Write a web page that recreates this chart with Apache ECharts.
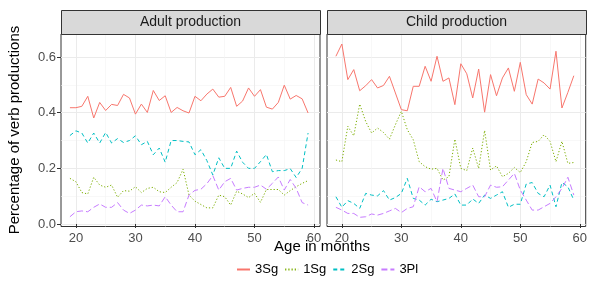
<!DOCTYPE html>
<html>
<head>
<meta charset="utf-8">
<script src="https://cdn.jsdelivr.net/npm/echarts@6/dist/echarts.min.js"></script>
<style>
  html, body { margin: 0; padding: 0; background: #fff; }
  #chart { width: 590px; height: 292px; }
</style>
</head>
<body>
<div id="chart"></div>
<script>
// age in months (one point per month)
const months = [19, 20, 21, 22, 23, 24, 25, 26, 27, 28, 29, 30, 31, 32, 33, 34, 35, 36, 37, 38, 39,
  40, 41, 42, 43, 44, 45, 46, 47, 48, 49, 50, 51, 52, 53, 54, 55, 56, 57, 58, 59];

const adult3Sg = [0.418, 0.418, 0.423, 0.459, 0.381, 0.437, 0.408, 0.43, 0.426, 0.466, 0.453, 0.395, 0.431, 0.401, 0.48, 0.444, 0.461, 0.401, 0.419, 0.407, 0.399,
  0.459, 0.443, 0.467, 0.485, 0.456, 0.459, 0.491, 0.423, 0.442, 0.489, 0.459, 0.483, 0.42, 0.413, 0.437, 0.499, 0.449, 0.462, 0.45, 0.399];
const adult1Sg = [0.164, 0.152, 0.113, 0.108, 0.168, 0.14, 0.132, 0.14, 0.096, 0.12, 0.118, 0.134, 0.113, 0.128, 0.132, 0.116, 0.113, 0.132, 0.149, 0.197, 0.104,
  0.082, 0.07, 0.058, 0.058, 0.104, 0.098, 0.068, 0.118, 0.108, 0.095, 0.11, 0.078, 0.124, 0.124, 0.124, 0.104, 0.12, 0.134, 0.146, 0.156];
const adult2Sg = [0.318, 0.335, 0.327, 0.291, 0.327, 0.291, 0.329, 0.291, 0.307, 0.293, 0.3, 0.317, 0.285, 0.297, 0.249, 0.273, 0.222, 0.3, 0.3, 0.297, 0.295,
  0.249, 0.267, 0.228, 0.176, 0.238, 0.2, 0.2, 0.262, 0.222, 0.2, 0.2, 0.224, 0.25, 0.188, 0.192, 0.192, 0.199, 0.167, 0.2, 0.327];
const adult3Pl = [0.026, 0.044, 0.047, 0.044, 0.06, 0.072, 0.06, 0.06, 0.077, 0.05, 0.038, 0.05, 0.068, 0.065, 0.068, 0.065, 0.098, 0.068, 0.044, 0.044, 0.104,
  0.121, 0.125, 0.145, 0.174, 0.122, 0.152, 0.164, 0.122, 0.128, 0.132, 0.132, 0.14, 0.125, 0.146, 0.169, 0.122, 0.16, 0.128, 0.077, 0.068];

const child3Sg = [0.603, 0.647, 0.519, 0.555, 0.479, 0.497, 0.519, 0.489, 0.498, 0.531, 0.471, 0.411, 0.407, 0.495, 0.495, 0.567, 0.513, 0.603, 0.513, 0.525, 0.429,
  0.576, 0.54, 0.453, 0.557, 0.402, 0.537, 0.461, 0.525, 0.561, 0.477, 0.581, 0.465, 0.431, 0.521, 0.507, 0.485, 0.621, 0.417, 0.473, 0.533];
const child1Sg = [0.23, 0.224, 0.351, 0.317, 0.431, 0.369, 0.327, 0.345, 0.329, 0.305, 0.357, 0.405, 0.339, 0.303, 0.224, 0.206, 0.197, 0.2, 0.158, 0.17, 0.305,
  0.2, 0.192, 0.273, 0.2, 0.336, 0.194, 0.209, 0.17, 0.182, 0.203, 0.185, 0.224, 0.293, 0.297, 0.321, 0.297, 0.224, 0.297, 0.218, 0.221];
const child2Sg = [0.098, 0.06, 0.084, 0.074, 0.056, 0.11, 0.104, 0.101, 0.12, 0.086, 0.095, 0.11, 0.164, 0.092, 0.086, 0.068, 0.089, 0.08, 0.086, 0.092, 0.108,
  0.068, 0.068, 0.09, 0.074, 0.104, 0.092, 0.104, 0.116, 0.06, 0.071, 0.071, 0.144, 0.149, 0.11, 0.098, 0.14, 0.062, 0.149, 0.134, 0.086];
const child3Pl = [0.06, 0.05, 0.038, 0.038, 0.024, 0.026, 0.036, 0.032, 0.038, 0.047, 0.056, 0.041, 0.056, 0.062, 0.134, 0.116, 0.128, 0.08, 0.2, 0.128, 0.122,
  0.116, 0.128, 0.14, 0.098, 0.098, 0.14, 0.132, 0.134, 0.158, 0.182, 0.122, 0.086, 0.05, 0.05, 0.062, 0.074, 0.098, 0.128, 0.168, 0.104];

const xMajor = [20, 30, 40, 50, 60];
const xMinor = [25, 35, 45, 55];
const yMajor = [0, 0.2, 0.4, 0.6];
const yMinor = [0.1, 0.3, 0.5];
const panels = ['Adult production', 'Child production'];

const chart = echarts.init(document.getElementById('chart'));

const font = 'Liberation Sans, Arial, sans-serif';
const panelLeft = [61, 327];
const panelW = 259;
const panelTop = 34;
const panelH = 192.5;

const styles = {
  '3Sg': { color: '#F8766D', type: 'solid' },
  '1Sg': { color: '#7CAE00', type: [1.2, 2] },
  '2Sg': { color: '#00BFC4', type: [4, 3] },
  '3Pl': { color: '#C77CFF', type: [6, 3] }
};

function pairs(vals) {
  return months.map((m, i) => [m, vals[i]]);
}

function makeSeries(name, vals, idx) {
  return {
    name: name,
    type: 'line',
    xAxisIndex: idx,
    yAxisIndex: idx,
    data: pairs(vals),
    symbol: 'none',
    animation: false,
    color: styles[name].color,
    lineStyle: { color: styles[name].color, width: 1, type: styles[name].type }
  };
}

const xAxes = [];
const yAxes = [];
[0, 1].forEach(g => {
  xAxes.push({
    type: 'value', gridIndex: g, min: 17.5, max: 61,
    axisLine: { show: false },
    axisTick: { show: true, length: 4, customValues: xMajor, lineStyle: { color: '#333' } },
    axisLabel: { customValues: xMajor, color: '#4D4D4D', fontSize: 13, fontFamily: font, margin: 5 },
    splitLine: { show: true, lineStyle: { color: '#EBEBEB', width: 1 } }
  });
  yAxes.push({
    type: 'value', gridIndex: g, min: -0.009, max: 0.683,
    axisLine: { show: false },
    axisTick: { show: g === 0, length: 4, customValues: yMajor, lineStyle: { color: '#333' } },
    axisLabel: { show: g === 0, customValues: yMajor, color: '#4D4D4D', fontSize: 13, fontFamily: font, margin: 5,
      formatter: v => v.toFixed(1) },
    splitLine: { show: true, lineStyle: { color: '#EBEBEB', width: 1 } }
  });
});
// minor grid lines on hidden axes
[0, 1].forEach(g => {
  xAxes.push({
    type: 'value', gridIndex: g, min: 17.5, max: 61,
    axisLine: { show: false }, axisLabel: { show: false },
    axisTick: { show: false, customValues: xMinor },
    splitLine: { show: true, lineStyle: { color: '#F3F3F3', width: 0.6 } }
  });
  yAxes.push({
    type: 'value', gridIndex: g, min: -0.009, max: 0.683,
    axisLine: { show: false }, axisLabel: { show: false },
    axisTick: { show: false, customValues: yMinor },
    splitLine: { show: true, lineStyle: { color: '#F3F3F3', width: 0.6 } }
  });
});

const graphics = [];
panels.forEach((p, i) => {
  graphics.push({
    type: 'rect', left: panelLeft[i], top: 10, z: 10,
    shape: { width: panelW, height: panelTop - 10 },
    style: { fill: '#D9D9D9', stroke: '#333', lineWidth: 1 }
  });
  graphics.push({
    type: 'text', x: panelLeft[i] + panelW / 2, y: 22, z: 11,
    style: { text: p, fill: '#1A1A1A', font: '14px ' + font, textAlign: 'center', textVerticalAlign: 'middle' }
  });
});
graphics.push({
  type: 'text', x: 322, y: 247, z: 11,
  style: { text: 'Age in months', fill: '#000', font: '15px ' + font, textAlign: 'center', textVerticalAlign: 'middle' }
});
graphics.push({
  type: 'text', x: 15, y: 130, rotation: Math.PI / 2, z: 11,
  style: { text: 'Percentage of verb productions', fill: '#000', font: '15px ' + font, textAlign: 'center', textVerticalAlign: 'middle' }
});

const option = {
  animation: false,
  grid: [0, 1].map(i => ({
    left: panelLeft[i], top: panelTop, width: panelW, height: panelH,
    show: true, borderColor: '#333', borderWidth: 1, backgroundColor: '#fff'
  })),
  xAxis: xAxes,
  yAxis: yAxes,
  legend: {
    data: ['3Sg', '1Sg', '2Sg', '3Pl'],
    bottom: 11, left: 231,
    itemWidth: 13, itemHeight: 8, itemGap: 6,
    itemStyle: { opacity: 0, color: 'transparent', borderWidth: 0 },
    textStyle: { color: '#000', fontSize: 13, fontFamily: font }
  },
  graphic: graphics,
  series: [
    makeSeries('3Sg', adult3Sg, 0),
    makeSeries('1Sg', adult1Sg, 0),
    makeSeries('2Sg', adult2Sg, 0),
    makeSeries('3Pl', adult3Pl, 0),
    makeSeries('3Sg', child3Sg, 1),
    makeSeries('1Sg', child1Sg, 1),
    makeSeries('2Sg', child2Sg, 1),
    makeSeries('3Pl', child3Pl, 1)
  ]
};

chart.setOption(option);
</script>
</body>
</html>
